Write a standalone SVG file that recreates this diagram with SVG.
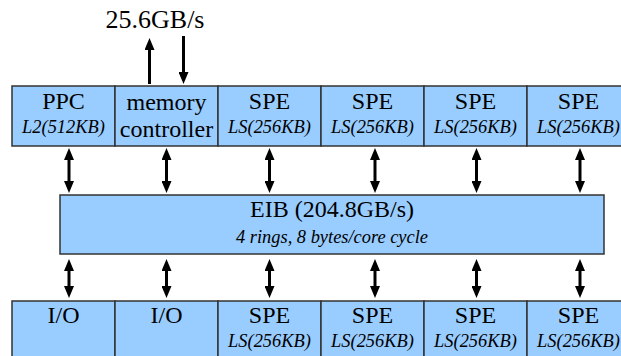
<svg xmlns="http://www.w3.org/2000/svg" width="621" height="356" viewBox="0 0 621 356">
<style>
.box{fill:#99ccff;stroke:#333333;stroke-width:1.5}
.t{font-family:"Liberation Serif","Times New Roman",serif;font-size:24px;fill:#000;text-anchor:middle}
.s{font-family:"Liberation Serif","Times New Roman",serif;font-size:18.4px;font-style:italic;fill:#000;text-anchor:middle}
.c{stroke:#000;stroke-width:3;fill:none;marker-end:url(#ah)}
.d{stroke:#000;stroke-width:3;fill:none;marker-start:url(#ah);marker-end:url(#ah)}
</style>
<defs>
<marker id="ah" viewBox="0 0 12 10" refX="1" refY="5" markerWidth="12" markerHeight="10" markerUnits="userSpaceOnUse" orient="auto-start-reverse">
<path d="M0,0 L12,5 L0,10 z" fill="#000"/>
</marker>
</defs>
<text class="t" x="155" y="28" style="font-size:26px">25.6GB/s</text>
<g id="connectors">
<line class="c" x1="149.5" y1="84" x2="149.5" y2="49"/>
<line class="c" x1="183.5" y1="36" x2="183.5" y2="73"/>
<line class="d" x1="69" y1="159" x2="69" y2="182"/>
<line class="d" x1="166.5" y1="159" x2="166.5" y2="182"/>
<line class="d" x1="269.5" y1="159" x2="269.5" y2="182"/>
<line class="d" x1="375" y1="159" x2="375" y2="182"/>
<line class="d" x1="476.5" y1="159" x2="476.5" y2="182"/>
<line class="d" x1="580" y1="159" x2="580" y2="182"/>
<line class="d" x1="69" y1="270" x2="69" y2="287"/>
<line class="d" x1="166.5" y1="270" x2="166.5" y2="287"/>
<line class="d" x1="269.5" y1="270" x2="269.5" y2="287"/>
<line class="d" x1="375" y1="270" x2="375" y2="287"/>
<line class="d" x1="476.5" y1="270" x2="476.5" y2="287"/>
<line class="d" x1="580" y1="270" x2="580" y2="287"/>
</g>
<g id="ppc"><rect class="box" x="12" y="86" width="103" height="60"/><text class="t" x="63.5" y="109">PPC</text><text class="s" x="63.5" y="133">L2(512KB)</text></g>
<g id="memctrl"><rect class="box" x="115" y="86" width="103" height="60"/><text class="t" x="166.5" y="110">memory</text><text class="t" x="166.5" y="137">controller</text></g>
<g id="spe1"><rect class="box" x="218" y="86" width="103" height="60"/><text class="t" x="269.5" y="109">SPE</text><text class="s" x="269.5" y="133">LS(256KB)</text></g>
<g id="spe2"><rect class="box" x="321" y="86" width="103" height="60"/><text class="t" x="372.5" y="109">SPE</text><text class="s" x="372.5" y="133">LS(256KB)</text></g>
<g id="spe3"><rect class="box" x="424" y="86" width="103" height="60"/><text class="t" x="475.5" y="109">SPE</text><text class="s" x="475.5" y="133">LS(256KB)</text></g>
<g id="spe4"><rect class="box" x="527" y="86" width="103" height="60"/><text class="t" x="578.5" y="109">SPE</text><text class="s" x="578.5" y="133">LS(256KB)</text></g>
<g id="eib"><rect class="box" x="60" y="195" width="544" height="59"/><text class="t" x="332" y="217">EIB (204.8GB/s)</text><text class="s" x="332" y="243">4 rings, 8 bytes/core cycle</text></g>
<g id="io1"><rect class="box" x="12" y="301" width="103" height="60"/><text class="t" x="63.5" y="323">I/O</text></g>
<g id="io2"><rect class="box" x="115" y="301" width="103" height="60"/><text class="t" x="166.5" y="323">I/O</text></g>
<g id="spe5"><rect class="box" x="218" y="301" width="103" height="60"/><text class="t" x="269.5" y="323">SPE</text><text class="s" x="269.5" y="347">LS(256KB)</text></g>
<g id="spe6"><rect class="box" x="321" y="301" width="103" height="60"/><text class="t" x="372.5" y="323">SPE</text><text class="s" x="372.5" y="347">LS(256KB)</text></g>
<g id="spe7"><rect class="box" x="424" y="301" width="103" height="60"/><text class="t" x="475.5" y="323">SPE</text><text class="s" x="475.5" y="347">LS(256KB)</text></g>
<g id="spe8"><rect class="box" x="527" y="301" width="103" height="60"/><text class="t" x="578.5" y="323">SPE</text><text class="s" x="578.5" y="347">LS(256KB)</text></g>
</svg>
